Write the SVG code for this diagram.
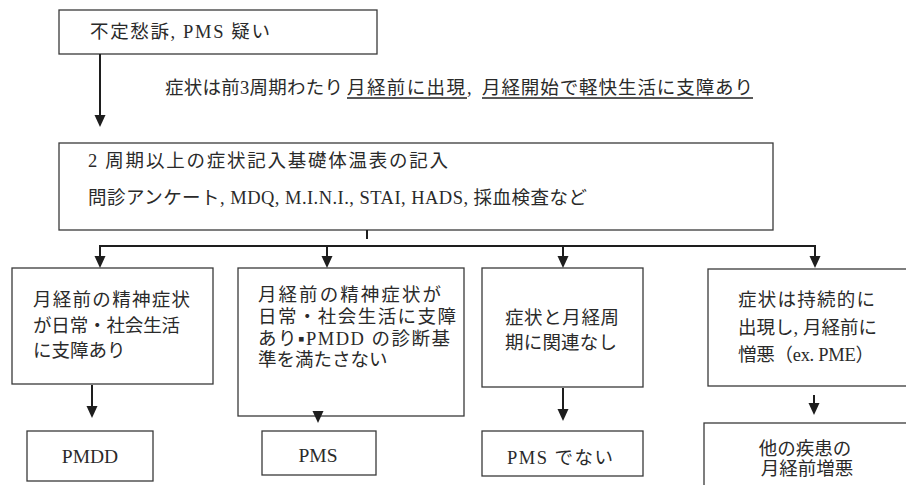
<svg xmlns="http://www.w3.org/2000/svg" width="906" height="485" viewBox="0 0 906 485">
<style>
.box{fill:#fff;stroke:#3a3a3a;stroke-width:1.3}
.t{font-family:"Liberation Serif","Noto Sans CJK JP",serif;font-size:18.5px;fill:#2a2a2a}
.big{font-size:19.5px}
.c{stroke:#1e1e1e;stroke-width:2;fill:none}
.u{stroke:#222;stroke-width:1.3}
</style>
<defs>
<marker id="ah" markerUnits="userSpaceOnUse" markerWidth="12" markerHeight="12" viewBox="0 0 12 11" refX="4" refY="5.5" orient="auto">
<path d="M0,0 L12,5.5 L0,11 z" fill="#1e1e1e"/>
</marker>
</defs>
<rect width="906" height="485" fill="#fff"/>

<g id="label">
<text class="t" y="94"><tspan x="165" textLength="178">症状は前3周期わたり</tspan><tspan x="347" textLength="118">月経前に出現</tspan><tspan x="467">, </tspan><tspan x="482" textLength="271">月経開始で軽快生活に支障あり</tspan></text>
<line class="u" x1="347" y1="98" x2="467" y2="98"/>
<line class="u" x1="482" y1="98" x2="753" y2="98"/>
</g>

<g id="n-start">
<rect class="box" x="59" y="10" width="318" height="44"/>
<text class="t" x="90" y="38" textLength="180">不定愁訴, PMS 疑い</text>
</g>

<g id="n-record">
<rect class="box" x="59" y="143" width="714" height="87"/>
<text class="t" x="88" y="167" textLength="360">2 周期以上の症状記入基礎体温表の記入</text>
<text class="t" x="88" y="204" textLength="499">問診アンケート, MDQ, M.I.N.I., STAI, HADS, 採血検査など</text>
</g>

<g id="n-a">
<rect class="box" x="12" y="268" width="201" height="116"/>
<text class="t" x="33" y="306" textLength="157">月経前の精神症状</text>
<text class="t" x="33" y="332" textLength="147">が日常・社会生活</text>
<text class="t" x="33" y="357">に支障あり</text>
</g>

<g id="n-b">
<rect class="box" x="238" y="268" width="226" height="148"/>
<text class="t" x="258" y="301" textLength="183">月経前の精神症状が</text>
<text class="t" x="258" y="323" textLength="198">日常・社会生活に支障</text>
<text class="t" x="258" y="345" textLength="192">あり▪PMDD の診断基</text>
<text class="t" x="258" y="366">準を満たさない</text>
</g>

<g id="n-c">
<rect class="box" x="482" y="268" width="161" height="119"/>
<text class="t" x="505" y="324" textLength="114">症状と月経周</text>
<text class="t" x="505" y="349" textLength="112">期に関連なし</text>
</g>

<g id="n-d">
<rect class="box" x="708" y="269" width="200" height="117"/>
<text class="t" x="738" y="306" textLength="137">症状は持続的に</text>
<text class="t" x="738" y="334" textLength="139">出現し, 月経前に</text>
<text class="t" x="738" y="361" textLength="136">憎悪（ex. PME）</text>
</g>

<g id="n-pmdd">
<rect class="box" x="27" y="431" width="126" height="50"/>
<text class="t big" x="90" y="463" text-anchor="middle">PMDD</text>
</g>

<g id="n-pms">
<rect class="box" x="262" y="431" width="114" height="44"/>
<text class="t big" x="318" y="462" text-anchor="middle">PMS</text>
</g>

<g id="n-notpms">
<rect class="box" x="482" y="431" width="161" height="45"/>
<text class="t" x="507" y="464" textLength="106">PMS でない</text>
</g>

<g id="n-other">
<rect class="box" x="704" y="423" width="206" height="70"/>
<text class="t" x="805" y="455" text-anchor="middle">他の疾患の</text>
<text class="t" x="807" y="475" text-anchor="middle">月経前増悪</text>
</g>

<g id="connectors">
<line class="c" x1="100" y1="54" x2="100" y2="119" marker-end="url(#ah)"/>
<line class="c" x1="367" y1="230" x2="367" y2="239"/>
<line class="c" x1="100" y1="246" x2="815" y2="246"/>
<line class="c" x1="100" y1="245" x2="100" y2="260" marker-end="url(#ah)"/>
<line class="c" x1="327" y1="245" x2="327" y2="260" marker-end="url(#ah)"/>
<line class="c" x1="563" y1="245" x2="563" y2="260" marker-end="url(#ah)"/>
<line class="c" x1="815" y1="245" x2="815" y2="260" marker-end="url(#ah)"/>
<line class="c" x1="92" y1="385" x2="92" y2="410" marker-end="url(#ah)"/>
<line class="c" x1="318" y1="412" x2="318" y2="415" marker-end="url(#ah)"/>
<line class="c" x1="563" y1="388" x2="563" y2="413" marker-end="url(#ah)"/>
<line class="c" x1="814" y1="395" x2="814" y2="407" marker-end="url(#ah)"/>
</g>
</svg>
